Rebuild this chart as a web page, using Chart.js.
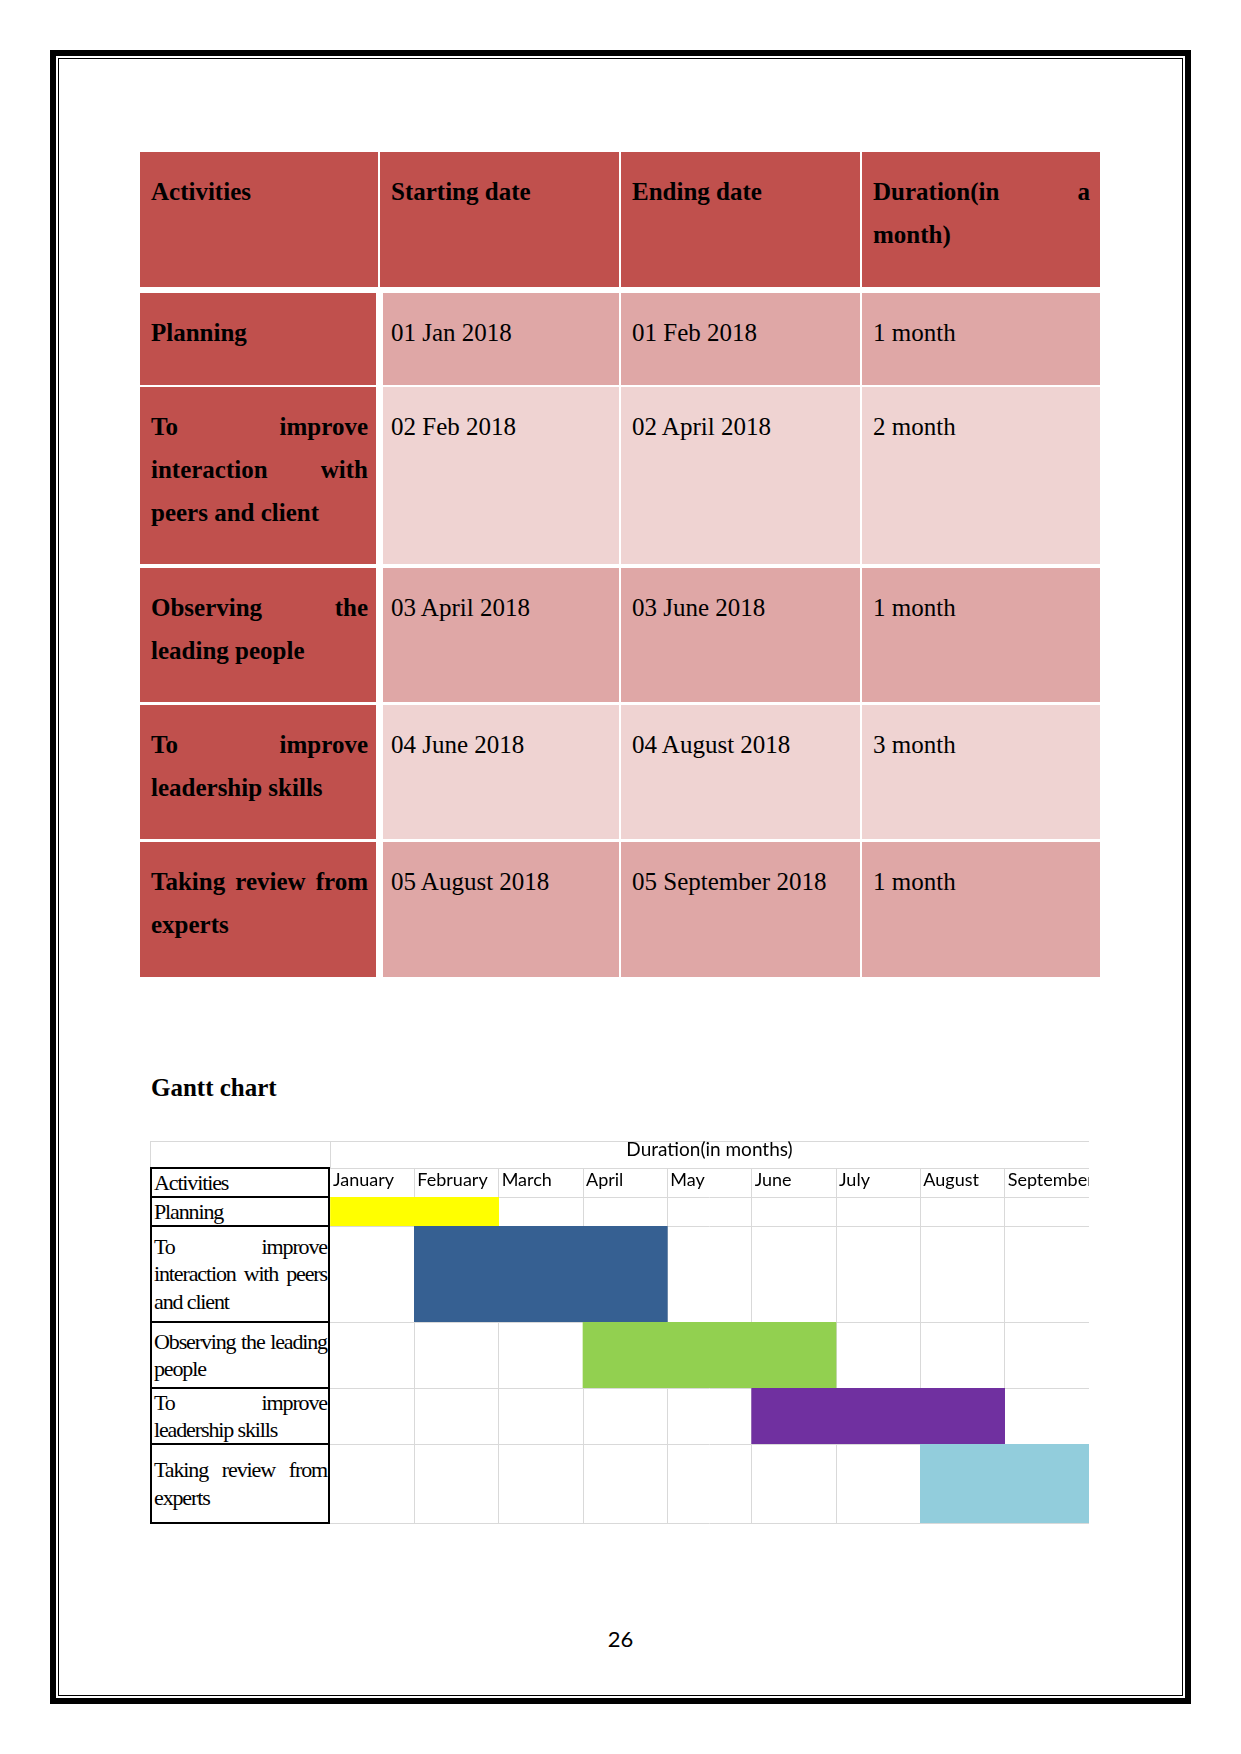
<!DOCTYPE html>
<html>
<head>
<meta charset="utf-8">
<script src="https://cdn.jsdelivr.net/npm/chart.js@4.4.1/dist/chart.umd.min.js"></script>
<style>
  html, body { margin: 0; padding: 0; background: #ffffff; }
  body { width: 1241px; height: 1754px; position: relative; overflow: hidden; }
  .abs { position: absolute; box-sizing: border-box; }
  .serif { font-family: 'Liberation Serif', 'Times New Roman', serif; color: #000; }
  .ttext { position: absolute; font-size: 25px; line-height: 43px; text-align: justify; }
  .glabel { position: absolute; box-sizing: border-box; border: 2px solid #000; display: flex; align-items: center;
            padding: 0 1px 0 2px; background: #fff; }
  .glabel div { width: 100%; font-size: 22px; line-height: 27.5px; letter-spacing: -1.13px; text-align: justify; }
  canvas { position: absolute; display: block; }
</style>
</head>
<body>
<script>
// ---------------- data ----------------
const tableHeaders = ['Activities', 'Starting date', 'Ending date', 'Duration(in a month)'];
const activities = ['Planning', 'To improve interaction with peers and client', 'Observing the leading people', 'To improve leadership skills', 'Taking review from experts'];
const startDates = ['01 Jan 2018', '02 Feb 2018', '03 April 2018', '04 June 2018', '05 August 2018'];
const endDates = ['01 Feb 2018', '02 April 2018', '03 June 2018', '04 August 2018', '05 September 2018'];
const durations = ['1 month', '2 month', '1 month', '3 month', '1 month'];
const ganttTitle = 'Gantt chart';
const ganttCorner = 'Activities';
const axisTitle = 'Duration(in months)';
const months = ['January', 'February', 'March', 'April', 'May', 'June', 'July', 'August', 'September'];
const ganttStart = [0, 1, 3, 5, 7];   // index of first month
const ganttEnd = [2, 4, 6, 8, 9];     // index after last month
const barColors = ['#FFFF00', '#366092', '#92D050', '#7030A0', '#92CDDC'];
const pageNumber = '26';

// ---------------- layout (page geometry, not data) ----------------
const headColX = [[140, 378], [380, 619], [621, 860], [862, 1100]];
const bodyColX = [[140, 376], [383, 619], [621, 860], [862, 1100]];
const tblRowY = [[152, 287], [293, 385], [387, 564], [568, 702], [705, 839], [842, 977]];
const textX = [151, 391, 632, 873];
const textW = 217;
const gl = { left: 150, split: 330, right: 1089, top: 1141, monthTop: 1168,
             rowTops: [1168, 1197, 1226, 1322, 1388, 1444], rowBottoms: [1197, 1226, 1322, 1388, 1444, 1523] };
const GRID = '#D9D9D9';

function el(tag, cls, style, text) {
  const e = document.createElement(tag);
  if (cls) e.className = cls;
  Object.assign(e.style, style || {});
  if (text !== undefined) e.textContent = text;
  document.body.appendChild(e);
  return e;
}
function px(v) { return v + 'px'; }

// page border
el('div', 'abs', { left: '50px', top: '50px', width: '1141px', height: '1654px', border: '6px solid #000' });
el('div', 'abs', { left: '58px', top: '58px', width: '1125px', height: '1638px', border: '1px solid #000' });

// ---------------- table ----------------
const headColor = '#C0504D';
const bandA = '#DFA7A6';
const bandB = '#EFD3D2';
const rowsText = [tableHeaders].concat(activities.map((a, i) => [a, startDates[i], endDates[i], durations[i]]));
rowsText.forEach((row, r) => {
  const [y0, y1] = tblRowY[r];
  const cols = r === 0 ? headColX : bodyColX;
  row.forEach((txt, c) => {
    const bg = (r === 0 || c === 0) ? headColor : (r % 2 === 1 ? bandA : bandB);
    el('div', 'abs', { left: px(cols[c][0]), top: px(y0), width: px(cols[c][1] - cols[c][0]), height: px(y1 - y0), background: bg });
    const bold = (r === 0 || c === 0);
    el('div', 'serif ttext', { left: px(textX[c]), top: px(y0 + 18), width: px(textW), fontWeight: bold ? 'bold' : 'normal' }, txt);
  });
});

// ---------------- gantt title ----------------
el('div', 'serif', { position: 'absolute', left: '151px', top: '1066px', fontSize: '25px', lineHeight: '43px', fontWeight: 'bold' }, ganttTitle);

// gantt header lines
el('div', 'abs', { left: px(gl.left), top: px(gl.top), width: px(gl.right - gl.left), height: '1px', background: GRID });
el('div', 'abs', { left: px(gl.left), top: px(gl.top), width: px(gl.split - gl.left + 1), height: px(gl.monthTop - gl.top),
                   borderLeft: '1px solid ' + GRID, borderRight: '1px solid ' + GRID });

// gantt label column
const labelTexts = [ganttCorner].concat(activities);
labelTexts.forEach((t, r) => {
  const top = gl.rowTops[r], bot = gl.rowBottoms[r];
  const d = el('div', 'glabel serif', { left: px(gl.left), top: px(top - 1), width: px(gl.split - gl.left), height: px(bot - top + 2) });
  const inner = document.createElement('div');
  inner.textContent = t;
  d.appendChild(inner);
});

// ---------------- charts ----------------
Chart.defaults.font.family = 'Lato';
Chart.defaults.color = '#000';
const gridColor = (ctx) => (ctx.tick && (ctx.tick.value === 0 || ctx.tick.value === months.length)) ? 'rgba(0,0,0,0)' : GRID;

function makeCanvas(left, top, w, h) {
  const c = el('canvas', null, { left: px(left), top: px(top), width: px(w), height: px(h) });
  c.width = w; c.height = h;
  return c;
}

// header (month row + axis title)
const hc = makeCanvas(gl.split, gl.top, gl.right - gl.split, gl.rowBottoms[0] - gl.top);
new Chart(hc, {
  type: 'bar',
  data: { labels: [''], datasets: [{ data: [] }] },
  options: {
    indexAxis: 'y', responsive: false, animation: false, devicePixelRatio: 1,
    layout: { padding: 0 },
    plugins: { legend: { display: false }, tooltip: { enabled: false } },
    scales: {
      x: {
        type: 'linear', position: 'top', min: 0, max: months.length,
        afterFit: (s) => { s.height = gl.monthTop - gl.top; },
        ticks: { stepSize: 1, autoSkip: false, maxRotation: 0, minRotation: 0, align: 'start', labelOffset: 3,
                 mirror: true, padding: 0,
                 color: '#000', font: { family: 'Lato', size: 18, lineHeight: 1.3 },
                 callback: (v) => months[v] !== undefined ? months[v] : '' },
        grid: { color: gridColor, drawTicks: false, lineWidth: 1 },
        border: { display: true, color: GRID, width: 1 },
        title: { display: true, text: axisTitle, color: '#000', font: { family: 'Lato', size: 19, lineHeight: 1 }, padding: { top: -1, bottom: 0 } }
      },
      y: { display: false }
    }
  }
});

// one chart per activity row (rows have different heights)
activities.forEach((a, i) => {
  const top = gl.rowTops[i + 1], bot = gl.rowBottoms[i + 1];
  const last = i === activities.length - 1;
  const cv = makeCanvas(gl.split, top, gl.right - gl.split, bot - top + (last ? 1 : 0));
  new Chart(cv, {
    type: 'bar',
    data: {
      labels: [a],
      datasets: [{ data: [[ganttStart[i], ganttEnd[i]]], backgroundColor: barColors[i], borderWidth: 0,
                   barPercentage: 1, categoryPercentage: 1 }]
    },
    options: {
      indexAxis: 'y', responsive: false, animation: false, devicePixelRatio: 1,
      layout: { padding: { top: 0, left: 0, right: 0, bottom: last ? 1 : 0 } },
      plugins: { legend: { display: false }, tooltip: { enabled: false } },
      scales: {
        x: { type: 'linear', position: 'bottom', min: 0, max: months.length,
             ticks: { display: false, stepSize: 1 },
             grid: { color: gridColor, drawTicks: false, lineWidth: 1 },
             border: { display: false } },
        y: { type: 'category', ticks: { display: false },
             grid: { color: GRID, drawTicks: false, offset: true, lineWidth: 1 },
             border: { display: false } }
      }
    }
  });
});

// page number
el('div', null, { position: 'absolute', left: '0px', width: '1241px', top: '1624px', textAlign: 'center',
                  fontFamily: 'Lato', fontSize: '22px', lineHeight: '30px', color: '#000' }, pageNumber);
</script>
</body>
</html>
